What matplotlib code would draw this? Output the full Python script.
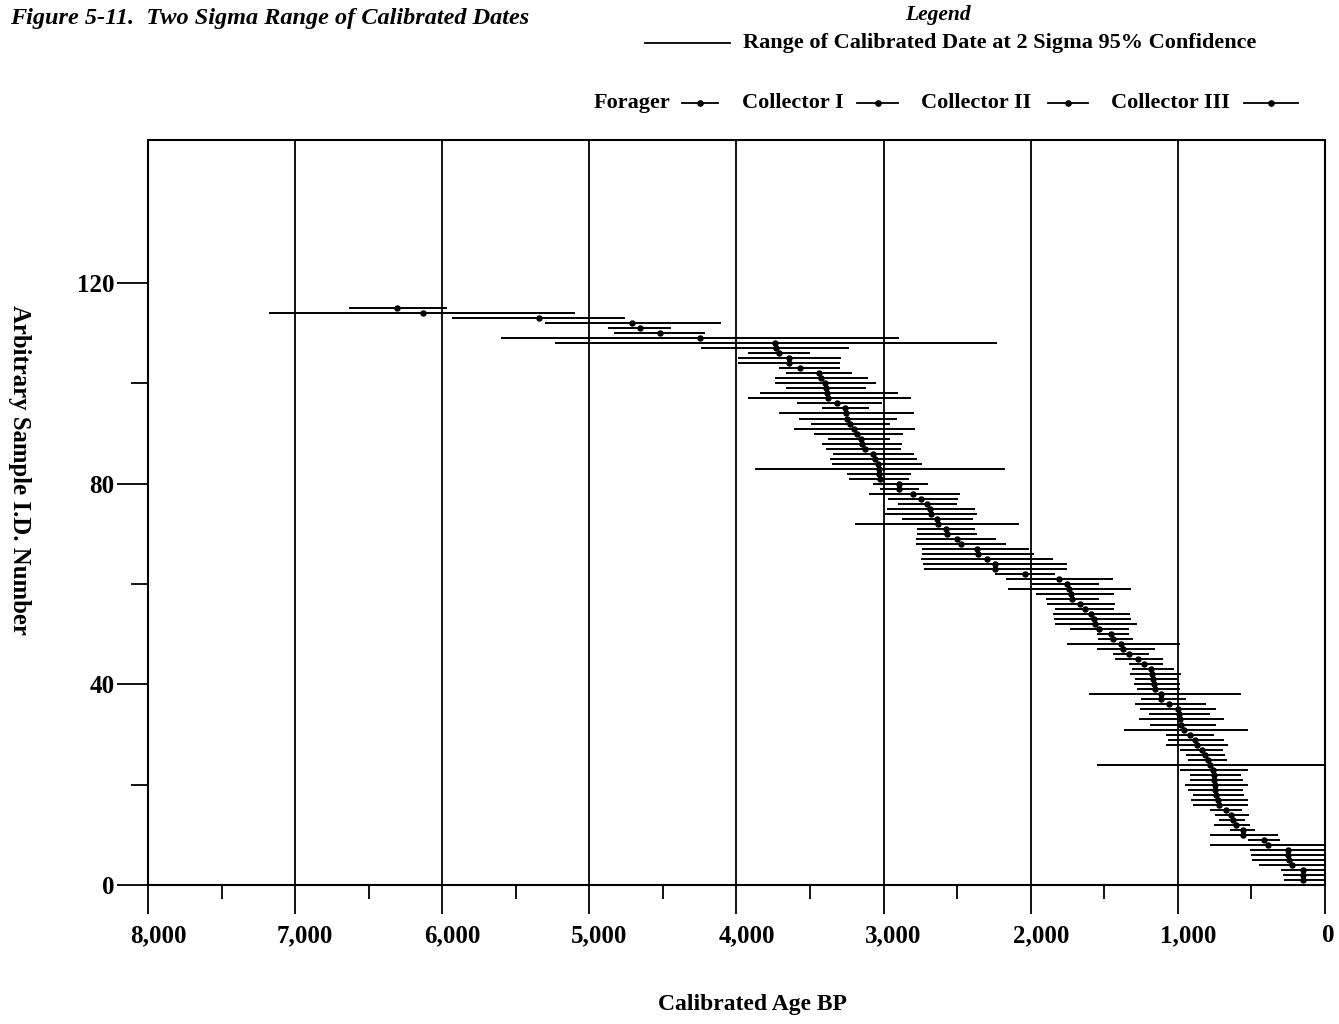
import matplotlib
matplotlib.use("Agg")
import matplotlib.pyplot as plt
from matplotlib.lines import Line2D
from matplotlib.ticker import MultipleLocator, FixedLocator, FuncFormatter
import matplotlib.transforms as mtransforms

# ---------------- Data (years BP) ---------------- #

sample_id = list(range(1, 116))

cal_mid = [
    146, 146, 150, 225, 241, 248, 248, 384, 412, 556,
    560, 605, 626, 637, 671, 717, 730, 739, 746, 750,
    752, 757, 761, 779, 797, 812, 835, 873, 880, 914,
    955, 975, 982, 993, 1000, 1063, 1111, 1116, 1152, 1161,
    1168, 1175, 1184, 1229, 1274, 1333, 1372, 1387, 1440, 1456,
    1533, 1560, 1571, 1587, 1632, 1662, 1718, 1729, 1741, 1755,
    1806, 2040, 2240, 2245, 2299, 2358, 2367, 2476, 2500, 2567,
    2574, 2631, 2640, 2680, 2685, 2708, 2748, 2800, 2896, 2896,
    3023, 3030, 3034, 3040, 3057, 3070, 3127, 3145, 3156, 3179,
    3202, 3229, 3247, 3258, 3265, 3315, 3379, 3383, 3388, 3395,
    3422, 3440, 3569, 3642, 3642, 3714, 3728, 3741, 4251, 4521,
    4655, 4707, 5345, 6131, 6304,
]

# older end of the 2 sigma range (left end of each bar)
cal_old = [
    279, 286, 296, 448, 494, 500, 506, 779, 526, 779,
    644, 752, 717, 747, 779, 897, 908, 897, 931, 953,
    919, 919, 988, 1551, 932, 941, 982, 1077, 1068, 1077,
    1367, 1186, 1266, 1198, 1257, 1288, 1250, 1607, 1276, 1299,
    1288, 1326, 1311, 1333, 1424, 1440, 1549, 1755, 1544, 1549,
    1735, 1837, 1841, 1846, 1837, 1888, 1899, 1962, 2154, 1993,
    2170, 2245, 2725, 2730, 2748, 2737, 2737, 2782, 2782, 2771,
    2776, 3195, 2873, 2991, 2980, 2900, 2968, 3101, 3023, 3075,
    3236, 3247, 3874, 3350, 3361, 3344, 3388, 3417, 3381, 3472,
    3608, 3494, 3576, 3712, 3417, 3590, 3920, 3841, 3660, 3741,
    3741, 3665, 3712, 3988, 3988, 3920, 4243, 5235, 5600, 4832,
    4875, 5302, 5934, 7175, 6636,
]

# younger end of the 2 sigma range (right end of each bar)
cal_young = [
    0, 0, 0, 0, 0, 0, 0, 0, 306, 322,
    476, 507, 543, 513, 565, 523, 523, 550, 560, 523,
    560, 571, 525, 0, 665, 677, 693, 660, 688, 751,
    525, 743, 688, 779, 743, 808, 942, 571, 982, 986,
    1005, 977, 1029, 1100, 1100, 1198, 1152, 986, 1304, 1329,
    1329, 1275, 1315, 1325, 1434, 1424, 1537, 1432, 1320, 1534,
    1438, 1838, 1750, 1755, 1846, 1977, 2012, 2170, 2238, 2363,
    2379, 2080, 2390, 2367, 2379, 2503, 2497, 2478, 2757, 2696,
    2827, 2816, 2177, 2737, 2776, 2791, 2880, 2876, 2955, 2869,
    2783, 2957, 2907, 2791, 3100, 3014, 2814, 2905, 3119, 3050,
    3107, 3212, 3293, 3297, 3286, 3501, 3236, 2230, 2894, 4214,
    4444, 4108, 4760, 5100, 5969,
]

group_names = ["Forager", "Collector I", "Collector II", "Collector III"]

FONT = "Liberation Serif"

fig = plt.figure(figsize=(13.39, 10.24), dpi=100)
ax = fig.add_axes([0.1105, 0.1357, 0.879, 0.7275])

# ---------------- Ranges & points ---------------- #

ax.hlines(sample_id, cal_young, cal_old, color="black", linewidth=1.4, zorder=3)
ax.plot(cal_mid, sample_id, "o", color="black", markersize=3.6, zorder=4)

ax.set_xlim(8000, 0)
ax.set_ylim(0, 148.5)

ax.xaxis.set_major_locator(MultipleLocator(1000))
ax.xaxis.set_minor_locator(MultipleLocator(500))
ax.yaxis.set_major_locator(FixedLocator([0, 40, 80, 120]))
ax.yaxis.set_minor_locator(FixedLocator([20, 60, 100]))
ax.xaxis.set_major_formatter(FuncFormatter(lambda v, p: f"{int(v):,}"))

ax.grid(axis="x", which="major", color="black", linewidth=1.3)
ax.set_axisbelow(True)

for s in ax.spines.values():
    s.set_linewidth(1.5)

ax.tick_params(axis="x", which="major", direction="out", length=21, width=1.3, pad=7)
ax.tick_params(axis="x", which="minor", direction="out", length=10, width=1.3)
ax.tick_params(axis="y", which="major", direction="out", length=22, width=1.3, pad=2)
ax.tick_params(axis="y", which="minor", direction="out", length=12, width=1.3)

for lab in ax.get_xticklabels() + ax.get_yticklabels():
    lab.set_fontfamily(FONT)
    lab.set_fontweight("bold")
    lab.set_fontsize(18)

# scanned original has the year labels nudged right of their ticks
for lab in ax.get_xticklabels():
    dx = 0.03 if lab.get_text() == "0" else 0.1
    shift = mtransforms.ScaledTranslation(dx, 0, fig.dpi_scale_trans)
    lab.set_transform(lab.get_transform() + shift)

# ---------------- Axis titles ---------------- #

fig.text(0.5616, 0.0186, "Calibrated Age BP", family=FONT, weight="bold",
         fontsize=17, ha="center", va="center")
fig.text(0.0149, 0.541, "Arbitrary Sample I.D. Number", family=FONT, weight="bold",
         fontsize=17.8, rotation=270, ha="center", va="center")

# ---------------- Title & legend ---------------- #

fig.text(0.0075, 0.982, "Figure 5-11.  Two Sigma Range of Calibrated Dates",
         family=FONT, weight="bold", style="italic", fontsize=17.5,
         ha="left", va="center")

fig.text(0.7005, 0.985, "Legend", family=FONT, weight="bold", style="italic",
         fontsize=15.5, ha="center", va="center")
fig.add_artist(Line2D([0.4817, 0.5452], [0.958, 0.958], color="black", linewidth=1.3))
fig.text(0.555, 0.958, "Range of Calibrated Date at 2 Sigma 95% Confidence",
         family=FONT, weight="bold", fontsize=16, ha="left", va="center")

text_x = [0.4436, 0.5541, 0.6878, 0.8298]
line_x = [(0.5093, 0.5362), (0.6400, 0.6707), (0.7827, 0.8125), (0.9290, 0.9694)]
row_y = 0.8994
for name, tx, (x0, x1) in zip(group_names, text_x, line_x):
    fig.text(tx, row_y, name, family=FONT, weight="bold", fontsize=16,
             ha="left", va="center")
    fig.add_artist(Line2D([x0, x1], [row_y, row_y], color="black", linewidth=1.3))
    fig.add_artist(Line2D([(x0 + x1) / 2], [row_y], marker="o", markersize=3.8,
                          color="black", linestyle="none"))

fig.savefig("out.png", dpi=100)
